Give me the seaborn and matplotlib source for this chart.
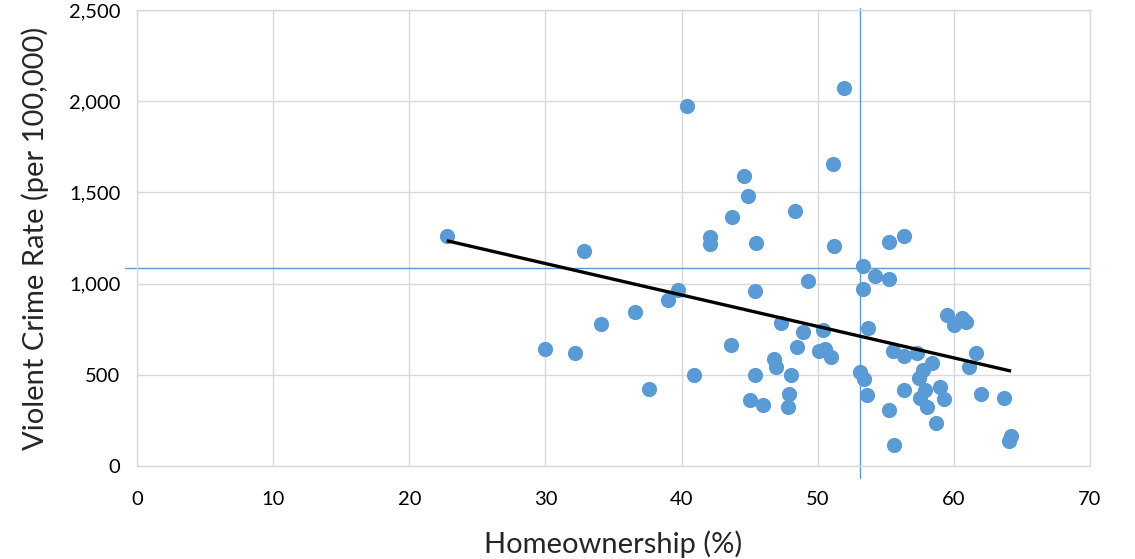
import numpy as np
import pandas as pd
import matplotlib
matplotlib.use("Agg")
import matplotlib.pyplot as plt
import matplotlib.ticker as mticker
import seaborn as sns

# Homeownership (%) vs violent crime rate
homeownership = [
    22.75, 30.0, 32.2, 32.8, 34.1, 36.6, 37.6, 39.0, 39.7, 40.4,
    40.9, 42.1, 42.1, 43.6, 43.7, 44.6, 44.9, 45.45, 45.0, 45.4,
    45.4, 46.0, 47.3, 46.8, 46.9, 48.0, 47.9, 47.8, 48.3, 48.5,
    48.9, 49.3, 50.4, 50.1, 50.5, 51.0, 51.1, 51.2, 51.9, 53.3,
    53.3, 53.7, 53.1, 53.4, 53.6, 54.2, 55.2, 55.2, 56.3, 55.2,
    55.6, 56.3, 55.5, 56.3, 57.3, 58.4, 57.7, 57.4, 57.9, 57.5,
    58.0, 59.0, 59.3, 58.7, 59.5, 60.6, 60.0, 60.9, 61.6, 61.1,
    62.0, 63.7, 64.2, 64.05,
]
crime_rate = [
    1261, 641, 621, 1179, 778, 844, 422, 910, 965, 1974,
    497, 1257, 1217, 662, 1363, 1591, 1482, 1223, 362, 497,
    959, 334, 786, 585, 541, 497, 393, 325, 1398, 652,
    733, 1014, 746, 630, 640, 596, 1654, 1206, 2071, 1098,
    970, 755, 517, 479, 391, 1043, 1024, 1230, 1261, 305,
    113, 418, 630, 605, 618, 566, 526, 484, 417, 371,
    325, 431, 367, 234, 828, 810, 773, 791, 618, 541,
    395, 371, 166, 137,
]
# reference lines
ref_homeownership = 53.1
ref_crime = 1085

df = pd.DataFrame({"Homeownership": homeownership, "Crime": crime_rate})

sns.set_theme(style="white")
plt.rcParams['font.family'] = ['Lato', 'DejaVu Sans']

blue = '#5B9BD5'
grid_color = '#D9D9D9'

fig = plt.figure(figsize=(11.35, 5.59), dpi=100)
ax = fig.add_axes([0.1207, 0.1664, 0.9604 - 0.1207, 0.9821 - 0.1664])

ax.set_axisbelow(True)
ax.grid(True, color=grid_color, linewidth=1.0)

# reference lines (extend a bit past the frame like the original)
ax.plot([-0.9, 70], [ref_crime, ref_crime], color=blue, linewidth=1.0, clip_on=False, zorder=1)
ax.plot([ref_homeownership, ref_homeownership], [-65, 2510], color=blue, linewidth=1.0, clip_on=False, zorder=1)

sns.scatterplot(data=df, x="Homeownership", y="Crime", color=blue, s=120,
                linewidth=0, ax=ax, zorder=3)

# linear trend line
slope, intercept = np.polyfit(df["Homeownership"], df["Crime"], 1)
xs = np.array([df["Homeownership"].min(), df["Homeownership"].max()])
ax.plot(xs, slope * xs + intercept, color='black', linewidth=2.4, zorder=4,
        solid_capstyle='butt')

ax.set_xlim(0, 70)
ax.set_ylim(0, 2500)
ax.set_xticks(range(0, 71, 10))
ax.set_yticks(range(0, 2501, 500))
ax.yaxis.set_major_formatter(mticker.StrMethodFormatter('{x:,.0f}'))
ax.tick_params(axis='both', length=0, labelsize=14.5, colors='black')
ax.tick_params(axis='x', pad=18)
ax.tick_params(axis='y', pad=12)

for sp in ax.spines.values():
    sp.set_color(grid_color)
    sp.set_linewidth(1.0)

ax.set_xlabel('Homeownership (%)', fontsize=21, labelpad=16)
ax.set_ylabel('Violent Crime Rate (per 100,000)', fontsize=21, labelpad=14)

fig.savefig('out.png', dpi=100)
